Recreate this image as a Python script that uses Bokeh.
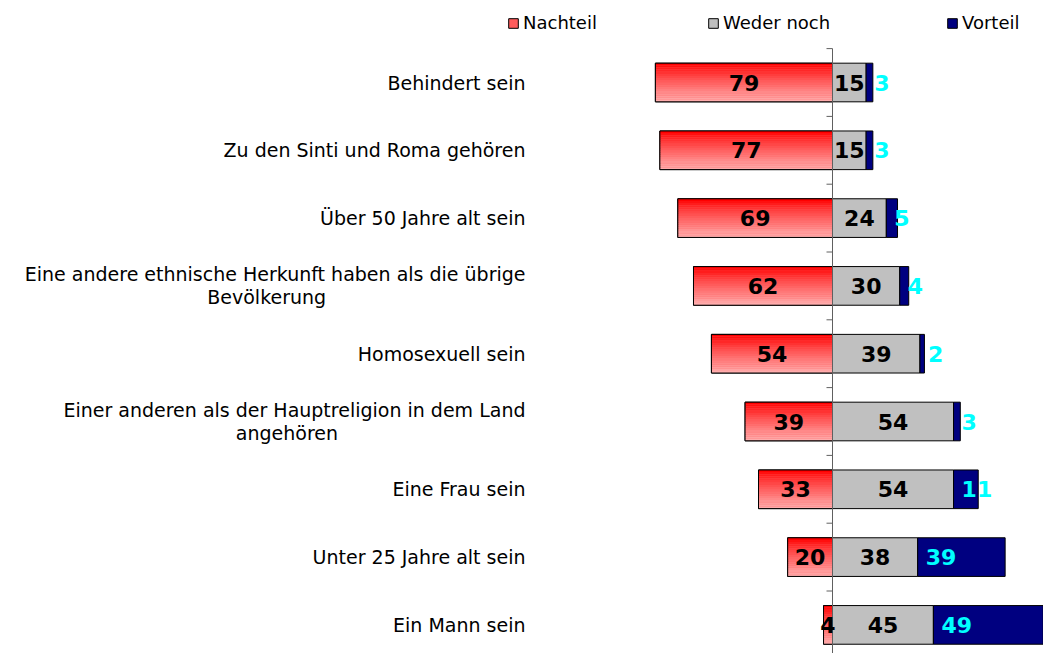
from bokeh.plotting import figure
from bokeh.models import Range1d, Legend, LegendItem
from bokeh.embed import file_html
from bokeh.resources import INLINE
from bokeh.core.properties import value

# ---------------- data ----------------
categories = [
    "Behindert sein",
    "Zu den Sinti und Roma gehören",
    "Über 50 Jahre alt sein",
    "Eine andere ethnische Herkunft haben als die übrige\nBevölkerung",
    "Homosexuell sein",
    "Einer anderen als der Hauptreligion in dem Land\nangehören",
    "Eine Frau sein",
    "Unter 25 Jahre alt sein",
    "Ein Mann sein",
]
nachteil = [79, 77, 69, 62, 54, 39, 33, 20, 4]
weder_noch = [15, 15, 24, 30, 39, 54, 54, 38, 45]
vorteil = [3, 3, 5, 4, 2, 3, 11, 39, 49]
series_names = ["Nachteil", "Weder noch", "Vorteil"]

# ---------------- layout ----------------
W, H = 1043, 653
XPX = 2.242          # px per percent
ROW = 67.8           # px per category
X0 = -832 / XPX
X1 = X0 + W / XPX
Y0 = -82 / ROW
Y1 = Y0 + H / ROW
BAR_H = 0.57
FONT = "DejaVu Sans"

def px2x(px):
    return X0 + px / XPX

p = figure(width=W, height=H, output_backend="svg", toolbar_location=None,
           x_axis_location=None, y_axis_location=None, min_border=0,
           x_range=Range1d(X0, X1), y_range=Range1d(Y1, Y0))
p.grid.visible = False
p.outline_line_color = None
p.background_fill_color = "white"
p.border_fill_color = "white"

n = len(categories)
ys = list(range(n))

# Nachteil base (also legend swatch)
r_nach = p.hbar(y=ys, left=[-v for v in nachteil], right=0, height=BAR_H,
                fill_color="#ff5c5c", line_color="black", line_width=1)

# gradient slices over the red bars
NS = 18
def lerp(c1, c2, t):
    return "#%02x%02x%02x" % tuple(int(round(a + (b - a) * t)) for a, b in zip(c1, c2))
top_c = (255, 0, 0)
bot_c = (255, 172, 172)
gl, gr, gt, gb, gc = [], [], [], [], []
for i, v in enumerate(nachteil):
    for k in range(NS):
        t0 = i - BAR_H / 2 + BAR_H * k / NS
        t1 = i - BAR_H / 2 + BAR_H * (k + 1) / NS
        gl.append(-v); gr.append(0); gt.append(t0); gb.append(t1)
        gc.append(lerp(top_c, bot_c, (k / (NS - 1)) ** 0.85))
p.quad(left=gl, right=gr, top=gt, bottom=gb, fill_color=gc, line_color=None)
p.hbar(y=ys, left=[-v for v in nachteil], right=0, height=BAR_H,
       fill_color=None, line_color="black", line_width=1)

r_wed = p.hbar(y=ys, left=0, right=weder_noch, height=BAR_H,
               fill_color="#c0c0c0", line_color="black", line_width=1)
r_vor = p.hbar(y=ys, left=weder_noch, right=[a + b for a, b in zip(weder_noch, vorteil)],
               height=BAR_H, fill_color="#000080", line_color="black", line_width=1)

# axis line + ticks
p.segment(x0=0, y0=-0.5, x1=0, y1=n + 0.2, line_color="#606060", line_width=1)
tick_y = [i - 0.5 for i in range(n + 1)]
p.segment(x0=[-6 / XPX] * len(tick_y), y0=tick_y, x1=[0] * len(tick_y), y1=tick_y,
          line_color="#606060", line_width=1)

# value labels
NUM_SIZE = "22px"
p.text(x=[-v / 2 for v in nachteil], y=ys, text=[str(v) for v in nachteil],
       text_align="center", text_baseline="middle", text_font=value(FONT),
       text_font_style="bold", text_font_size=NUM_SIZE, text_color="black")
p.text(x=[v / 2 for v in weder_noch], y=ys, text=[str(v) for v in weder_noch],
       text_align="center", text_baseline="middle", text_font=value(FONT),
       text_font_style="bold", text_font_size=NUM_SIZE, text_color="black")
p.text(x=weder_noch, y=ys, text=[str(v) for v in vorteil], x_offset=8,
       text_align="left", text_baseline="middle", text_font=value(FONT),
       text_font_style="bold", text_font_size=NUM_SIZE, text_color="#00ffff")

# category labels
LAB_SIZE = "19px"
single_x, single_y, single_t = [], [], []
l1_y, l1_t, l2_y, l2_t, l2_x = [], [], [], [], []
for i, c in enumerate(categories):
    parts = c.split("\n")
    if len(parts) == 1:
        single_x.append(px2x(525)); single_y.append(i); single_t.append(c)
    else:
        l1_y.append(i); l1_t.append(parts[0])
        l2_y.append(i); l2_t.append(parts[1])
        l2_x.append(px2x(525 - 0.5 * len(parts[0]) * 10.15))
p.text(x=single_x, y=single_y, text=single_t, text_align="right", text_baseline="middle",
       text_font=value(FONT), text_font_size=LAB_SIZE, text_color="black")
p.text(x=[px2x(525)] * len(l1_t), y=l1_y, text=l1_t, y_offset=-11.5, text_align="right",
       text_baseline="middle", text_font=value(FONT), text_font_size=LAB_SIZE, text_color="black")
p.text(x=l2_x, y=l2_y, text=l2_t, y_offset=11.5, text_align="center",
       text_baseline="middle", text_font=value(FONT), text_font_size=LAB_SIZE, text_color="black")

# legends (one per item for exact placement)
leg_px = [507, 707, 946]
for name, r, lx in zip(series_names, [r_nach, r_wed, r_vor], leg_px):
    lg = Legend(items=[LegendItem(label=name, renderers=[r])], location=(lx, 620),
                orientation="horizontal", glyph_width=12, glyph_height=12,
                label_standoff=4, padding=0, margin=0, spacing=0,
                border_line_color=None, background_fill_alpha=0,
                label_text_font=FONT, label_text_font_size="18px",
                label_text_color="black", label_height=12)
    p.add_layout(lg)

open("out.html", "w").write(file_html(p, INLINE))
